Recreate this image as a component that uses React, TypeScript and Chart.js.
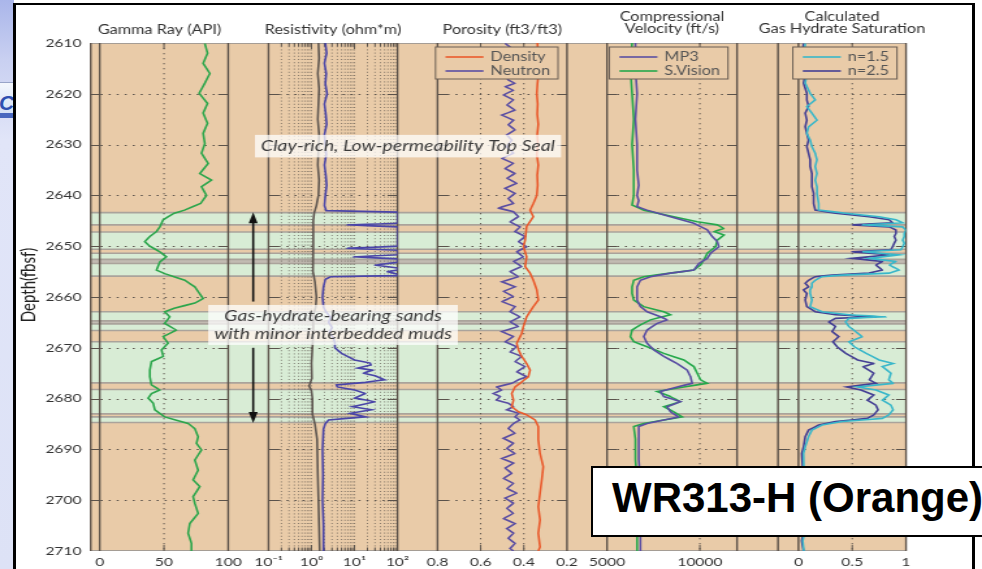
import { useEffect, useRef } from "react";
import { Chart, registerables } from "chart.js";

Chart.register(...registerables);

/* ---------------- depth axis & tick labels ---------------- */
const depthTicks = [2610, 2620, 2630, 2640, 2650, 2660, 2670, 2680, 2690, 2700, 2710];
const gammaTicks = [0, 50, 100];
const resistivityTicks = [0.1, 1, 10, 100];
const porosityTicks = [0.8, 0.6, 0.4, 0.2];
const velocityTicks = [5000, 10000];
const saturationTicks = [0, 0.5, 1];

/* ---------------- lithology (ft) ---------------- */
const sandTop = [2643.4, 2647.2, 2651.4, 2653.4, 2662.9, 2665.3, 2668.8, 2678.2, 2683.6];
const sandBase = [2645.8, 2650.6, 2652.6, 2655.9, 2664.7, 2666.6, 2676.9, 2683.0, 2684.7];
const partingTop = [2652.6, 2664.7];
const partingBase = [2653.4, 2665.3];

/* ---------------- gamma ray (API) ---------------- */
const gammaDepth = [2610.1, 2612.0, 2614.0, 2616.0, 2617.9, 2619.9, 2621.9, 2623.8, 2625.8, 2627.8, 2629.8, 2631.7, 2633.7, 2635.7, 2637.0, 2638.3, 2640.0, 2641.6, 2642.9, 2643.5, 2644.8, 2646.2, 2647.1, 2648.1, 2649.1, 2650.0, 2651.1, 2652.1, 2653.1, 2654.7, 2655.4, 2656.7, 2658.0, 2659.3, 2660.3, 2661.2, 2662.2, 2662.9, 2663.9, 2665.2, 2666.5, 2667.8, 2669.1, 2670.4, 2671.7, 2672.7, 2674.4, 2675.7, 2677.3, 2678.3, 2679.0, 2679.9, 2680.9, 2682.2, 2683.6, 2684.9, 2685.9, 2687.5, 2688.8, 2690.1, 2692.1, 2694.1, 2696.0, 2697.3, 2699.3, 2700.6, 2702.6, 2704.6, 2706.5, 2708.5, 2710.0];
const gammaApi = [81.8, 83.9, 80.5, 85.7, 81.8, 77.4, 83.9, 80.5, 83.9, 80.5, 81.8, 79.2, 84.4, 77.9, 87.0, 79.2, 83.1, 78.5, 66.0, 58.0, 49.4, 46.8, 44.2, 39.0, 35.1, 39.0, 46.8, 51.9, 46.8, 44.2, 50.6, 66.2, 74.0, 77.6, 80.5, 74.0, 58.0, 50.6, 54.5, 50.6, 59.7, 49.4, 53.2, 48.1, 49.4, 40.3, 39.0, 39.0, 40.3, 46.8, 40.3, 37.7, 41.6, 42.9, 50.6, 68.8, 74.0, 76.6, 75.3, 79.2, 74.0, 76.6, 72.7, 77.9, 72.7, 74.0, 76.6, 70.1, 68.8, 71.4, 71.4];

/* ---------------- resistivity (ohm*m) ---------------- */
const resShallowDepth = [2610, 2613, 2616, 2619, 2622, 2625, 2628, 2631, 2634, 2637, 2640, 2642, 2643.5, 2645, 2650, 2655, 2657, 2660, 2662, 2663.5, 2667, 2670, 2673, 2676, 2677.5, 2678.5, 2680, 2683, 2685, 2688, 2695, 2700, 2705, 2710];
const resShallow = [1.45, 1.5, 1.4, 1.5, 1.45, 1.4, 1.5, 1.45, 1.4, 1.5, 1.45, 1.3, 1.15, 1.1, 1.1, 1.08, 1.2, 1.3, 1.25, 1.1, 1.1, 1.05, 1.0, 1.02, 0.88, 1.0, 1.05, 1.05, 1.2, 1.35, 1.4, 1.45, 1.5, 1.55];
const resDeepDepth = [2610, 2612, 2614, 2616, 2618, 2620, 2622, 2624, 2626, 2628, 2630, 2632, 2634, 2636, 2638, 2640, 2642, 2643.0, 2643.3, 2645.5, 2645.8, 2646.2, 2650.0, 2650.4, 2650.8, 2651.7, 2652.1, 2652.5, 2653.2, 2653.7, 2654.3, 2654.7, 2655.0, 2655.5, 2655.8, 2656.0, 2656.5, 2658, 2660, 2662, 2663, 2664, 2665, 2666, 2667, 2668, 2669, 2670, 2671.1, 2672.4, 2673.0, 2673.4, 2674.0, 2674.4, 2675.0, 2675.5, 2676.3, 2676.8, 2677.3, 2677.7, 2678.3, 2679.0, 2679.9, 2680.6, 2681.6, 2682.2, 2682.9, 2683.6, 2684.2, 2684.9, 2686, 2690, 2695, 2700, 2705, 2710];
const resDeep = [2.1, 2.25, 2.0, 2.2, 2.1, 2.3, 2.0, 2.15, 2.25, 2.0, 2.1, 2.2, 2.0, 2.15, 2.25, 2.1, 2.0, 2.2, 100, 100, 6.8, 100, 100, 6.8, 100, 100, 9.4, 100, 100, 30, 100, 100, 58, 100, 100, 2.8, 2.1, 1.9, 1.8, 1.9, 2.2, 2.8, 2.5, 3.0, 2.6, 3.2, 3.5, 3.5, 5.0, 10, 23, 24, 12, 27, 16, 30, 50, 18, 3.8, 4, 10, 18, 10, 30, 9, 25, 8, 18, 2.5, 2.1, 1.9, 1.8, 1.85, 1.8, 1.9, 1.9];

/* ---------------- porosity (ft3/ft3) ---------------- */
const densityDepth = [2610, 2612, 2614, 2616, 2618, 2620, 2622, 2624, 2626, 2628, 2630, 2632, 2634, 2636, 2638, 2640, 2641.6, 2642.9, 2644.2, 2646.1, 2648.8, 2650.1, 2652.1, 2654.0, 2655.3, 2656.7, 2658.6, 2660.6, 2661.9, 2663.9, 2665.8, 2667.2, 2669.1, 2670.4, 2671.7, 2673.1, 2674.4, 2675.7, 2677.0, 2677.7, 2679.0, 2680.3, 2681.6, 2682.6, 2683.2, 2684.2, 2685.5, 2688.1, 2690.8, 2693.4, 2696.0, 2698.6, 2701.3, 2703.9, 2706.5, 2709.2, 2710];
const densityPor = [0.337, 0.335, 0.338, 0.332, 0.337, 0.34, 0.336, 0.338, 0.333, 0.338, 0.335, 0.34, 0.333, 0.338, 0.336, 0.34, 0.356, 0.371, 0.356, 0.387, 0.394, 0.402, 0.387, 0.394, 0.371, 0.356, 0.34, 0.333, 0.356, 0.387, 0.402, 0.41, 0.433, 0.425, 0.41, 0.387, 0.371, 0.379, 0.418, 0.441, 0.456, 0.448, 0.456, 0.425, 0.387, 0.348, 0.333, 0.333, 0.325, 0.31, 0.317, 0.325, 0.333, 0.325, 0.333, 0.325, 0.333];
const neutronDepth = [2610.1, 2611.0, 2612.0, 2613.0, 2614.0, 2615.0, 2616.0, 2617.3, 2617.9, 2618.6, 2619.3, 2620.2, 2621.2, 2622.2, 2623.2, 2624.2, 2625.2, 2626.1, 2627.1, 2628.1, 2629.1, 2630.4, 2631.7, 2632.7, 2633.7, 2634.7, 2635.7, 2636.6, 2637.6, 2638.6, 2639.6, 2640.6, 2641.6, 2642.5, 2643.2, 2644.2, 2645.2, 2646.2, 2647.1, 2648.1, 2649.1, 2650.1, 2651.1, 2652.1, 2653.0, 2654.0, 2655.0, 2656.0, 2657.0, 2658.0, 2658.9, 2659.9, 2660.9, 2661.9, 2662.9, 2663.9, 2664.9, 2665.8, 2666.8, 2667.8, 2668.8, 2669.8, 2670.8, 2671.7, 2672.7, 2673.7, 2674.7, 2675.7, 2676.3, 2677.0, 2677.7, 2678.3, 2679.0, 2679.6, 2680.3, 2680.9, 2681.6, 2682.2, 2682.9, 2683.6, 2684.2, 2684.9, 2685.9, 2686.8, 2687.8, 2688.8, 2689.8, 2690.8, 2691.8, 2692.7, 2693.7, 2694.7, 2695.7, 2696.7, 2697.7, 2698.6, 2699.6, 2700.6, 2701.6, 2702.6, 2703.6, 2704.6, 2705.6, 2706.5, 2707.5, 2708.5, 2709.5, 2710.0];
const neutronPor = [0.487, 0.456, 0.495, 0.448, 0.487, 0.451, 0.491, 0.472, 0.441, 0.487, 0.448, 0.495, 0.448, 0.479, 0.441, 0.502, 0.448, 0.472, 0.441, 0.479, 0.456, 0.479, 0.448, 0.502, 0.448, 0.487, 0.441, 0.479, 0.433, 0.487, 0.441, 0.472, 0.448, 0.518, 0.448, 0.425, 0.464, 0.418, 0.441, 0.394, 0.425, 0.387, 0.433, 0.402, 0.448, 0.41, 0.464, 0.425, 0.502, 0.441, 0.495, 0.448, 0.502, 0.441, 0.464, 0.418, 0.464, 0.425, 0.502, 0.448, 0.487, 0.433, 0.464, 0.41, 0.441, 0.394, 0.433, 0.387, 0.425, 0.456, 0.526, 0.502, 0.541, 0.51, 0.526, 0.472, 0.448, 0.479, 0.425, 0.441, 0.418, 0.448, 0.472, 0.441, 0.495, 0.448, 0.479, 0.441, 0.502, 0.448, 0.487, 0.456, 0.495, 0.448, 0.479, 0.433, 0.487, 0.448, 0.479, 0.448, 0.495, 0.441, 0.479, 0.448, 0.472, 0.441, 0.464, 0.448];

/* ---------------- compressional velocity (ft/s) ---------------- */
const mp3Depth = [2610, 2615, 2620, 2625, 2630, 2635, 2638, 2640, 2641, 2642.2, 2642.9, 2644.2, 2645.5, 2646.8, 2648.1, 2649.1, 2650.1, 2651.4, 2652.4, 2653.4, 2654.7, 2655.3, 2656.0, 2656.7, 2658.0, 2659.3, 2660.6, 2661.9, 2662.9, 2663.9, 2664.5, 2665.2, 2666.5, 2667.8, 2669.1, 2670.4, 2671.7, 2673.1, 2674.4, 2675.7, 2677.0, 2677.7, 2678.6, 2679.6, 2680.6, 2681.6, 2682.6, 2683.6, 2684.2, 2684.9, 2685.5, 2688.1, 2692, 2696, 2700, 2705, 2710];
const mp3Vel = [6529, 6529, 6619, 6529, 6619, 6619, 6709, 6619, 6709, 6619, 7159, 8418, 9677, 10397, 10667, 10937, 11027, 10577, 10397, 9947, 9677, 8418, 7339, 6799, 6619, 6619, 6619, 6799, 7159, 7878, 8238, 7699, 7159, 6979, 7159, 7519, 8058, 8778, 9318, 9498, 9588, 8778, 7878, 8058, 8958, 8238, 8418, 8868, 8058, 7159, 6709, 6709, 6709, 6799, 6709, 6799, 6799];
const sVisionDepth = [2610, 2615, 2620, 2625, 2630, 2635, 2640, 2641.9, 2642.9, 2644.2, 2645.2, 2645.8, 2646.5, 2647.1, 2647.8, 2648.8, 2650.1, 2651.4, 2652.7, 2653.7, 2654.7, 2655.3, 2656.0, 2656.7, 2658.0, 2659.3, 2660.6, 2661.9, 2662.9, 2663.5, 2664.5, 2665.5, 2666.5, 2667.8, 2668.8, 2669.8, 2671.1, 2672.4, 2673.7, 2675.0, 2676.3, 2677.0, 2677.7, 2678.6, 2679.6, 2680.6, 2681.6, 2682.6, 2683.6, 2684.2, 2684.9, 2685.5, 2688, 2692, 2696, 2700, 2705, 2710];
const sVisionVel = [6349, 6259, 6349, 6439, 6349, 6439, 6439, 6349, 6979, 8598, 9857, 10937, 11297, 10757, 11297, 10937, 10847, 10397, 10217, 10037, 9677, 8418, 6979, 6439, 6349, 6349, 6439, 6979, 8058, 8418, 7339, 6799, 6349, 6259, 6439, 7159, 8058, 9138, 9677, 9857, 10037, 10397, 9138, 7699, 8418, 8958, 8058, 8598, 9048, 8058, 6979, 6439, 6529, 6529, 6619, 6529, 6619, 6619];

/* ---------------- gas hydrate saturation ---------------- */
const satDepth = [2610.1, 2613.3, 2616.0, 2617.9, 2619.9, 2621.2, 2622.5, 2623.8, 2625.2, 2626.5, 2627.8, 2629.1, 2630.4, 2631.7, 2633.0, 2634.3, 2635.7, 2637.0, 2638.3, 2639.6, 2641.6, 2642.9, 2643.5, 2644.2, 2644.8, 2645.4, 2645.8, 2646.2, 2646.8, 2647.5, 2648.1, 2648.8, 2649.4, 2650.1, 2650.7, 2651.1, 2651.7, 2652.4, 2653.0, 2653.7, 2654.7, 2655.3, 2655.7, 2656.0, 2656.7, 2657.3, 2658.0, 2658.6, 2659.3, 2660.6, 2661.9, 2662.9, 2663.5, 2663.9, 2664.2, 2664.9, 2665.8, 2666.8, 2667.8, 2668.8, 2669.8, 2671.1, 2672.4, 2673.1, 2673.7, 2675.0, 2676.3, 2677.0, 2677.7, 2678.3, 2679.3, 2680.3, 2681.3, 2682.2, 2683.2, 2683.9, 2684.5, 2685.2, 2686.2, 2687.5, 2689.5, 2690.8, 2694, 2698, 2702, 2706, 2708, 2710];
const satN15 = [0.063, 0.047, 0.078, 0.063, 0.109, 0.156, 0.078, 0.125, 0.172, 0.094, 0.078, 0.109, 0.125, 0.156, 0.172, 0.156, 0.172, 0.156, 0.172, 0.172, 0.188, 0.188, 0.438, 0.75, 0.906, 0.969, 0.594, 0.969, 1.0, 0.984, 0.984, 0.969, 0.984, 0.969, 0.953, 0.594, 0.938, 0.656, 0.906, 0.844, 0.938, 0.844, 0.406, 0.219, 0.156, 0.125, 0.125, 0.109, 0.109, 0.125, 0.109, 0.219, 0.469, 0.813, 0.469, 0.438, 0.469, 0.531, 0.594, 0.47, 0.52, 0.63, 0.75, 0.88, 0.78, 0.86, 0.84, 0.88, 0.55, 0.72, 0.84, 0.78, 0.86, 0.88, 0.84, 0.78, 0.406, 0.219, 0.125, 0.094, 0.063, 0.047, 0.05, 0.04, 0.05, 0.06, 0.04, 0.05];
const satN25 = [0.047, 0.031, 0.063, 0.047, 0.078, 0.078, 0.094, 0.063, 0.078, 0.063, 0.078, 0.094, 0.078, 0.094, 0.109, 0.109, 0.125, 0.125, 0.125, 0.141, 0.141, 0.156, 0.344, 0.656, 0.844, 0.875, 0.5, 0.844, 0.906, 0.906, 0.891, 0.906, 0.891, 0.875, 0.859, 0.5, 0.844, 0.5, 0.781, 0.719, 0.781, 0.656, 0.313, 0.156, 0.094, 0.063, 0.094, 0.047, 0.078, 0.063, 0.078, 0.156, 0.344, 0.719, 0.344, 0.281, 0.344, 0.313, 0.375, 0.32, 0.36, 0.44, 0.55, 0.7, 0.6, 0.7, 0.66, 0.72, 0.45, 0.58, 0.7, 0.64, 0.72, 0.74, 0.7, 0.64, 0.344, 0.188, 0.094, 0.063, 0.047, 0.031, 0.04, 0.03, 0.04, 0.05, 0.03, 0.047];

/* ---------------- page geometry & styling ---------------- */
const PAGE_W = 982;
const PAGE_H = 569;
const CANVAS_W = 755; // backing width; the canvas is shown stretched to the page width
const SX = PAGE_W / CANVAS_W;
const cx = (v: number) => v / SX; // horizontal page pixels -> canvas units

const PLOT = { left: 90.7, right: 906, top: 43, bottom: 551 };
const Y_AXIS_W = 60;
const X_AXIS_H = 18;

const FONT = "Lato, 'Open Sans', sans-serif";
const TAN = "#e9cba8";
const SAND = "#d8ecd5";
const PARTING = "#c2bbb2";
const BED_LINE = "#aaa39b";
const GRID = "#5a524b";
const FRAME = "#5a5048";
const TEXT = "#333";

const tracks = [
  { id: "x1", title: ["Gamma Ray (API)"], type: "linear", min: -7, max: 100, reverse: false, ticks: gammaTicks, grid: [50], zero: true, width: 137.5 },
  { id: "x2", title: ["Resistivity (ohm*m)"], type: "logarithmic", min: 0.1, max: 100, reverse: false, ticks: resistivityTicks, grid: [0.1, 1, 10].flatMap((d) => [1, 2, 3, 4, 5, 6, 7, 8, 9].map((m) => +(d * m).toPrecision(2))).filter((v) => v > 0.1), zero: false, width: 129 },
  { id: "x3", title: ["Porosity (ft3/ft3)"], type: "linear", min: 0.2, max: 0.8, reverse: true, ticks: porosityTicks, grid: [0.6, 0.4], zero: false, width: 129.5 },
  { id: "x4", title: ["Compressional", "Velocity (ft/s)"], type: "linear", min: 5000, max: 12000, reverse: false, ticks: velocityTicks, grid: [10000], zero: false, width: 130 },
  { id: "x5", title: ["Calculated", "Gas Hydrate Saturation"], type: "linear", min: -0.19, max: 1, reverse: false, ticks: saturationTicks, grid: [0.5], zero: true, width: 128 },
];
const gapWidths = [40.3, 40, 40, 41];
const legendTracks = ["x3", "x4", "x5"];

const notes = [
  { lines: ["Clay-rich, Low-permeability Top Seal"], axis: "x2", edge: "right", dx: 10.5, depth: 2630.3 },
  { lines: ["Gas-hydrate-bearing sands", "with minor interbedded muds"], axis: "x2", edge: "center", dx: 0, depth: 2665.5 },
];
const arrowSpec = { axis: "gap1", at: 0.62, upper: [2660.9, 2643.3], lower: [2670.0, 2684.8] };

const SUP: Record<string, string> = { "-": "\u207B", "0": "\u2070", "1": "\u00B9", "2": "\u00B2", "3": "\u00B3" };
const powerLabel = (v: number) =>
  "10" + String(Math.round(Math.log10(v))).split("").map((c) => SUP[c] || c).join("");

const pts = (depth: number[], vals: number[]) =>
  depth.slice(0, Math.min(depth.length, vals.length)).map((d, i) => ({ x: vals[i], y: d }));

function seg(ctx: CanvasRenderingContext2D, x0: number, y0: number, x1: number, y1: number) {
  ctx.beginPath();
  ctx.moveTo(x0, y0);
  ctx.lineTo(x1, y1);
  ctx.stroke();
}

const wellLogPlugin = {
  id: "wellLog",
  beforeDatasetsDraw(chart: any) {
    const { ctx, chartArea: a, scales } = chart;
    const Y = (d: number) => scales.y.getPixelForValue(d);
    ctx.save();

    // mud background, sand beds, thin partings
    ctx.fillStyle = TAN;
    ctx.fillRect(a.left, a.top, a.right - a.left, a.bottom - a.top);
    ctx.fillStyle = SAND;
    sandTop.forEach((t, i) => ctx.fillRect(a.left, Y(t), a.right - a.left, Y(sandBase[i]) - Y(t)));
    ctx.fillStyle = PARTING;
    partingTop.forEach((t, i) => ctx.fillRect(a.left, Y(t), a.right - a.left, Y(partingBase[i]) - Y(t)));
    ctx.strokeStyle = BED_LINE;
    ctx.lineWidth = 1.6;
    [...sandTop, ...sandBase].forEach((d) => seg(ctx, a.left, Y(d), a.right, Y(d)));
    ctx.lineWidth = 1;
    ctx.strokeStyle = "#a59d95";
    seg(ctx, a.left, a.top + 0.5, a.right, a.top + 0.5);
    seg(ctx, a.left, a.bottom - 0.5, a.right, a.bottom - 0.5);

    const tickLen = cx(10);
    for (const t of tracks) {
      const s = scales[t.id];
      const L = s.left;
      const R = s.right;
      ctx.strokeStyle = GRID;
      ctx.lineWidth = 1;
      // depth grid with solid ticks on both sides
      depthTicks.slice(1, -1).forEach((d) => {
        const yy = Math.round(Y(d)) + 0.5;
        ctx.setLineDash([]);
        seg(ctx, L, yy, L + tickLen, yy);
        seg(ctx, R - tickLen, yy, R, yy);
        ctx.setLineDash([cx(2), cx(6)]);
        seg(ctx, L + tickLen, yy, R - tickLen, yy);
      });
      // value grid
      const isLog = t.type === "logarithmic";
      t.grid.forEach((v: number) => {
        const xx = s.getPixelForValue(v);
        const major = t.ticks.includes(v);
        ctx.globalAlpha = isLog ? 0.7 : 1;
        ctx.setLineDash(isLog ? [1, 2.2] : [1.3, 3.7]);
        seg(ctx, xx, a.top, xx, a.bottom);
        ctx.globalAlpha = 1;
        ctx.setLineDash([]);
        const len = major ? 6 : 3.5;
        seg(ctx, xx, a.top, xx, a.top + len);
        seg(ctx, xx, a.bottom - len, xx, a.bottom);
      });
      // frame and zero line
      ctx.setLineDash([]);
      ctx.strokeStyle = FRAME;
      ctx.lineWidth = 1.4;
      seg(ctx, L, a.top, L, a.bottom);
      seg(ctx, R, a.top, R, a.bottom);
      if (t.zero) {
        const xz = s.getPixelForValue(0);
        seg(ctx, xz, a.top, xz, a.bottom);
      }
    }
    ctx.restore();
  },
  afterDatasetsDraw(chart: any) {
    const { ctx, chartArea: a, scales } = chart;
    const Y = (d: number) => scales.y.getPixelForValue(d);
    ctx.save();

    // legends
    ctx.font = `12.5px ${FONT}`;
    ctx.textBaseline = "middle";
    ctx.textAlign = "left";
    for (const id of legendTracks) {
      const s = scales[id];
      const items = chart.data.datasets.filter((d: any) => d.xAxisID === id);
      const tw = Math.max(...items.map((d: any) => ctx.measureText(d.label).width));
      const lineLen = cx(38);
      const w = cx(10) + lineLen + cx(7) + tw + cx(8);
      const right = s.right - cx(9);
      const left = right - w;
      const top = a.top + 4;
      const h = 32;
      ctx.fillStyle = TAN;
      ctx.fillRect(left, top, w, h);
      ctx.strokeStyle = "#6a5e54";
      ctx.lineWidth = 1;
      ctx.strokeRect(left, top, w, h);
      items.forEach((d: any, i: number) => {
        const yy = top + 10 + i * 14;
        ctx.strokeStyle = d.borderColor;
        ctx.lineWidth = 1.6;
        seg(ctx, left + cx(10), yy, left + cx(10) + lineLen, yy);
        ctx.fillStyle = "#555";
        ctx.fillText(d.label, left + cx(10) + lineLen + cx(7), yy);
      });
    }

    // annotations
    ctx.font = `italic 15px ${FONT}`;
    ctx.textAlign = "center";
    for (const n of notes) {
      const s = scales[n.axis];
      const xc = (n.edge === "right" ? s.right : (s.left + s.right) / 2) + cx(n.dx);
      const yc = Y(n.depth);
      const tw = Math.max(...n.lines.map((l) => ctx.measureText(l).width));
      const w = tw + cx(12);
      const h = n.lines.length * 17.5 + 5;
      ctx.fillStyle = "rgba(255,255,255,0.74)";
      ctx.fillRect(xc - w / 2, yc - h / 2, w, h);
      ctx.fillStyle = "#3a3a3a";
      n.lines.forEach((l, i) => ctx.fillText(l, xc, yc + (i - (n.lines.length - 1) / 2) * 17.5));
    }

    // bed-extent arrows
    const ax = scales[arrowSpec.axis].getPixelForValue(arrowSpec.at);
    ctx.strokeStyle = "#111";
    ctx.fillStyle = "#111";
    ctx.lineWidth = 1.6;
    for (const [from, tip] of [arrowSpec.upper, arrowSpec.lower]) {
      const y0 = Y(from);
      const y1 = Y(tip);
      const dir = Math.sign(y1 - y0);
      seg(ctx, ax, y0, ax, y1 - dir * 9);
      ctx.beginPath();
      ctx.moveTo(ax, y1);
      ctx.lineTo(ax - cx(4.5), y1 - dir * 11);
      ctx.lineTo(ax + cx(4.5), y1 - dir * 11);
      ctx.closePath();
      ctx.fill();
    }

    // track titles
    ctx.font = `12.5px ${FONT}`;
    ctx.fillStyle = TEXT;
    ctx.textAlign = "center";
    for (const t of tracks) {
      const s = scales[t.id];
      const xc = (s.left + s.right) / 2;
      if (t.title.length === 1) ctx.fillText(t.title[0], xc, a.top - 13);
      else {
        ctx.fillText(t.title[0], xc, a.top - 26.3);
        ctx.fillText(t.title[1], xc, a.top - 13.7);
      }
    }

    // depth axis title
    ctx.translate(a.left - cx(62.2), (a.top + a.bottom) / 2 - 12);
    ctx.rotate(-Math.PI / 2);
    ctx.font = `15px ${FONT}`;
    ctx.fillStyle = "#222";
    ctx.fillText("Depth(fbsf)", 0, 0);
    ctx.restore();
  },
};

function buildScales() {
  const tickFont = { family: FONT, size: 12 };
  const scales: any = {
    y: {
      type: "linear",
      position: "left",
      min: depthTicks[0],
      max: depthTicks[depthTicks.length - 1],
      reverse: true,
      grid: { display: false, drawTicks: false },
      border: { display: false },
      afterBuildTicks: (s: any) => {
        s.ticks = depthTicks.map((v) => ({ value: v }));
      },
      afterFit: (s: any) => {
        s.width = Y_AXIS_W;
      },
      ticks: { font: tickFont, color: TEXT, padding: 7, autoSkip: false, callback: (v: any) => String(v) },
    },
  };
  tracks.forEach((t, i) => {
    scales[t.id] = {
      axis: "x",
      type: t.type,
      position: "bottom",
      stack: "tracks",
      stackWeight: t.width,
      min: t.min,
      max: t.max,
      reverse: t.reverse,
      grid: { display: false, drawTicks: false },
      border: { display: false },
      afterBuildTicks: (s: any) => {
        s.ticks = t.ticks.map((v) => ({ value: v }));
      },
      afterFit: (s: any) => {
        s.height = X_AXIS_H;
      },
      ticks: {
        font: tickFont,
        color: TEXT,
        padding: 4,
        maxRotation: 0,
        autoSkip: false,
        callback: (v: any) => (t.type === "logarithmic" ? powerLabel(Number(v)) : String(v)),
      },
    };
    if (i < gapWidths.length) {
      scales[`gap${i + 1}`] = {
        axis: "x",
        type: "linear",
        position: "bottom",
        stack: "tracks",
        stackWeight: gapWidths[i],
        min: 0,
        max: 1,
        grid: { display: false, drawTicks: false },
        border: { display: false },
        ticks: { display: false },
        afterFit: (s: any) => {
          s.height = X_AXIS_H;
        },
      };
    }
  });
  return scales;
}

function curve(label: string, axis: string, color: string, data: { x: number; y: number }[]) {
  return {
    label,
    data,
    xAxisID: axis,
    yAxisID: "y",
    borderColor: color,
    backgroundColor: color,
    borderWidth: 1.6,
    showLine: true,
    pointRadius: 0,
    tension: 0.0001,
    fill: false,
  };
}

export default function App() {
  const ref = useRef<HTMLCanvasElement | null>(null);

  useEffect(() => {
    if (!ref.current) return;
    const chart = new Chart(ref.current, {
      type: "scatter",
      data: {
        datasets: [
          curve("Gamma Ray", "x1", "#2ba64b", pts(gammaDepth, gammaApi)),
          curve("Shallow", "x2", "#5e5650", pts(resShallowDepth, resShallow)),
          curve("Deep", "x2", "#4a45a8", pts(resDeepDepth, resDeep)),
          curve("Density", "x3", "#ea5a2c", pts(densityDepth, densityPor)),
          curve("Neutron", "x3", "#5a4ea3", pts(neutronDepth, neutronPor)),
          curve("MP3", "x4", "#5a4ea3", pts(mp3Depth, mp3Vel)),
          curve("S.Vision", "x4", "#25a84b", pts(sVisionDepth, sVisionVel)),
          curve("n=1.5", "x5", "#38b7ca", pts(satDepth, satN15)),
          curve("n=2.5", "x5", "#443f94", pts(satDepth, satN25)),
        ],
      },
      options: {
        responsive: false,
        animation: false,
        events: [],
        layout: {
          autoPadding: false,
          padding: {
            left: cx(PLOT.left) - Y_AXIS_W,
            right: CANVAS_W - cx(PLOT.right),
            top: PLOT.top,
            bottom: PAGE_H - PLOT.bottom - X_AXIS_H,
          },
        },
        plugins: { legend: { display: false }, tooltip: { enabled: false } },
        scales: buildScales(),
      } as any,
      plugins: [wellLogPlugin],
    });
    return () => chart.destroy();
  }, []);

  return (
    <div style={{ position: "fixed", left: 0, top: 0, width: PAGE_W, height: PAGE_H, overflow: "hidden", background: "#fff" }}>
      <div style={{ position: "absolute", left: 0, top: 0, width: 14, height: PAGE_H, background: "linear-gradient(#aab6ea 0px, #c9d0f1 60px, #e1e5f8 140px, #dde2f6 100%)" }} />
      <div
        style={{
          position: "absolute",
          left: 0,
          top: 82,
          width: 14,
          height: 36,
          boxSizing: "border-box",
          borderTop: "1px solid #98a4c8",
          borderBottom: "5px solid #4867bf",
          background: "linear-gradient(#f4f7fd, #d5e1f6)",
          overflow: "hidden",
        }}
      >
        <span style={{ position: "absolute", left: -1, top: 9, font: "italic bold 21px 'Liberation Sans', Arial, sans-serif", color: "#2f4fb0", lineHeight: "21px" }}>C</span>
      </div>
      <div style={{ position: "absolute", left: 13, top: 3, width: 962, height: 620, boxSizing: "border-box", border: "3px solid #000", borderTopWidth: 2, background: "#fff" }} />
      <canvas
        ref={ref}
        width={CANVAS_W}
        height={PAGE_H}
        style={{ position: "absolute", left: 0, top: 0, width: PAGE_W, height: PAGE_H }}
      />
      <div
        style={{
          position: "absolute",
          left: 591,
          top: 466,
          width: 420,
          height: 71,
          boxSizing: "border-box",
          border: "2.5px solid #000",
          background: "#fff",
          paddingLeft: 19,
          font: "bold 42px 'Liberation Sans', Arial, sans-serif",
          lineHeight: "60px",
          color: "#000",
          whiteSpace: "nowrap",
        }}
      >
        WR313-H (Orange)
      </div>
    </div>
  );
}
